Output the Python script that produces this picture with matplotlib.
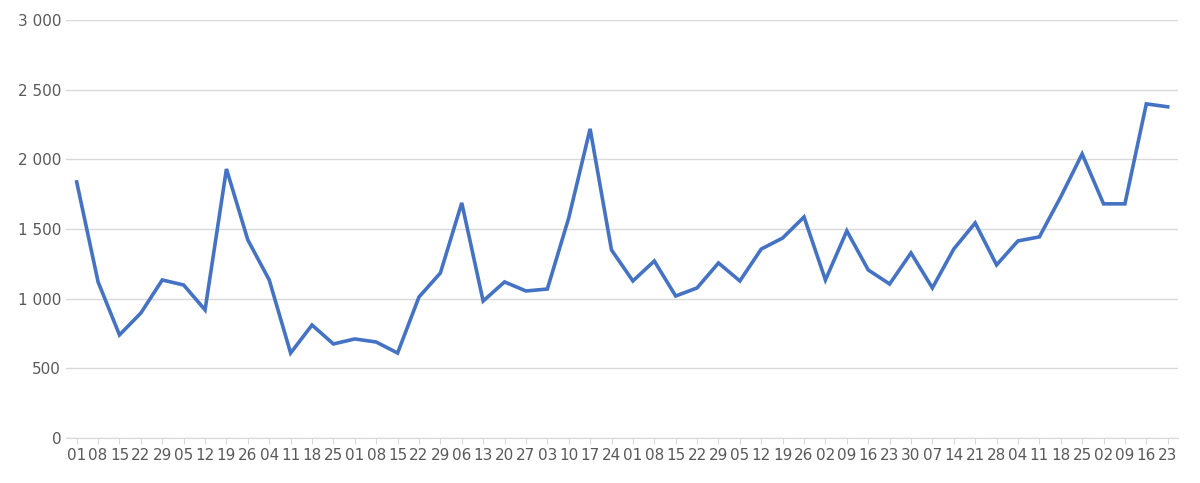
import matplotlib
matplotlib.use("Agg")
import matplotlib.pyplot as plt
from matplotlib.ticker import FuncFormatter

labels = ["01","08","15","22","29","05","12","19","26","04","11","18","25","01","08","15","22","29","06","13","20","27","03","10","17","24",
          "01","08","15","22","29","05","12","19","26","02","09","16","23","30","07","14","21","28","04","11","18","25","02","09","16","23"]
values = [1837,1120,740,897,1134,1098,919,1930,1421,1134,610,811,675,711,689,610,1012,1184,1687,983,1120,1055,1069,1579,2218,1349,
          1127,1270,1019,1077,1256,1127,1356,1435,1586,1134,1486,1206,1105,1328,1077,1356,1543,1242,1414,1443,1730,2038,1680,1680,2397,2376]

fig = plt.figure(figsize=(12, 4.83), dpi=100)
ax = fig.add_axes([0.055, 0.093, 0.927, 0.866])
x = list(range(len(values)))
ax.plot(x, values, color="#4472C4", linewidth=2.6, solid_joinstyle="miter")
ax.set_xlim(-0.5, len(values) - 0.5)
ax.set_ylim(0, 3000)
ax.set_yticks(range(0, 3001, 500))
ax.yaxis.set_major_formatter(FuncFormatter(lambda v, p: f"{int(v):,}".replace(",", " ")))
ax.set_xticks(x)
ax.set_xticklabels(labels)
ax.grid(axis="y", color="#D9D9D9", linewidth=1)
ax.set_axisbelow(True)
for s in ["top", "right", "left"]:
    ax.spines[s].set_visible(False)
ax.spines["bottom"].set_color("#D9D9D9")
ax.tick_params(axis="y", length=0, labelsize=11, colors="#595959")
ax.tick_params(axis="x", length=4, color="#D9D9D9", labelsize=11, colors="#595959")
fig.savefig("out.png")
